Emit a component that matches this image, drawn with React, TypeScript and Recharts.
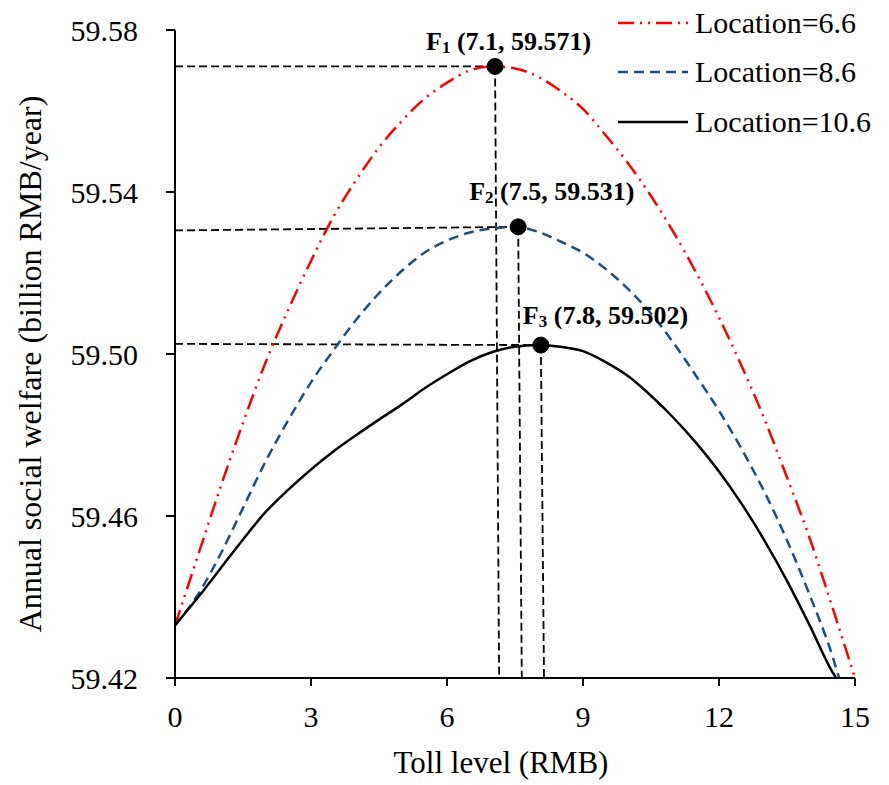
import { LineChart, Line, XAxis, YAxis, ReferenceLine, ReferenceDot, Legend, Label } from "recharts";

// toll level (RMB) sample points
const TOLL = [0, 0.5, 1, 1.5, 2, 2.5, 3, 3.5, 4, 4.5, 5, 5.5, 6, 6.5, 7, 7.5, 8, 8.5, 9, 9.5, 10, 10.5, 11, 11.5, 12, 12.5, 13, 13.5, 14, 14.5, 15];

// annual social welfare, Location = 6.6
const WELFARE_66 = [
  59.433, 59.45, 59.467, 59.483, 59.498, 59.511, 59.523, 59.534, 59.543, 59.551, 59.5575,
  59.563, 59.567, 59.57, 59.571, 59.5705, 59.5685, 59.565, 59.5605, 59.554, 59.547,
  59.539, 59.53, 59.52, 59.509, 59.497, 59.484, 59.4695, 59.4545, 59.4375, 59.42,
];

// Location = 8.6
const TOLL_86 = [...TOLL.slice(0, 30), 14.65];
const WELFARE_86 = [
  59.433, 59.4405, 59.4505, 59.462, 59.4735, 59.4837, 59.493, 59.501, 59.5085, 59.515, 59.5205,
  59.525, 59.528, 59.53, 59.531, 59.5314, 59.5302, 59.5278, 59.525, 59.521, 59.516,
  59.51, 59.5027, 59.4945, 59.486, 59.4765, 59.466, 59.454, 59.4405, 59.4255, 59.42,
];

// Location = 10.6
const TOLL_106 = [...TOLL.slice(0, 30), 14.58];
const WELFARE_106 = [
  59.433, 59.4398, 59.447, 59.4542, 59.461, 59.4665, 59.4715, 59.476, 59.48, 59.4838, 59.4875,
  59.4915, 59.495, 59.4982, 59.5005, 59.5018, 59.5022, 59.5018, 59.5007, 59.498, 59.4945,
  59.4897, 59.4842, 59.478, 59.471, 59.463, 59.454, 59.444, 59.433, 59.4215, 59.42,
];

const X_TICKS = [0, 3, 6, 9, 12, 15];
const Y_TICKS = [59.42, 59.46, 59.5, 59.54, 59.58];

// optimum points F1..F3
const OPT_NAMES = ["1", "2", "3"];
const OPT_TEXT = ["(7.1, 59.571)", "(7.5, 59.531)", "(7.8, 59.502)"];
const OPT_X = [7.06, 7.57, 8.07];
const OPT_Y = [59.571, 59.5314, 59.5022];
// where the hand-drawn guide lines meet the axes
const GUIDE_LEFT_Y = [59.571, 59.5305, 59.5025];
const GUIDE_BOTTOM_X = [7.15, 7.65, 8.14];

const FONT = '"Liberation Serif", "Times New Roman", serif';

const toPoints = (xs: number[], ys: number[]) => xs.map((x, i) => ({ x, y: ys[i] }));

const SERIES = [
  { name: "Location=6.6", data: toPoints(TOLL, WELFARE_66), color: "#ff0000", dash: "16 6 2 6 2 6" },
  { name: "Location=8.6", data: toPoints(TOLL_86, WELFARE_86), color: "#1f4e79", dash: "10 6" },
  { name: "Location=10.6", data: toPoints(TOLL_106, WELFARE_106), color: "#000000", dash: undefined },
];

// label offsets relative to each dot (start x, baseline y)
const LABEL_OFFSETS = [
  { dx: -69, dy: -16 },
  { dx: -49, dy: -27 },
  { dx: -18, dy: -21 },
];

function OptLabel({ viewBox, index }: any) {
  const cx = viewBox.x + viewBox.width / 2;
  const cy = viewBox.y + viewBox.height / 2;
  const off = LABEL_OFFSETS[index];
  return (
    <text x={cx + off.dx} y={cy + off.dy} fontFamily={FONT} fontWeight="bold" fontSize={26} fill="#000">
      <tspan>F</tspan>
      <tspan fontSize={17} dy={3}>{OPT_NAMES[index]}</tspan>
      <tspan dy={-3}>{" " + OPT_TEXT[index]}</tspan>
    </text>
  );
}

function LegendBox() {
  return (
    <div style={{ fontFamily: FONT, fontSize: 30, color: "#000" }}>
      {SERIES.map((s) => (
        <div key={s.name} style={{ display: "flex", alignItems: "center", height: 49.5, whiteSpace: "nowrap" }}>
          <svg width={70} height={10} style={{ marginRight: 7 }}>
            <line x1={0} y1={5} x2={70} y2={5} stroke={s.color} strokeWidth={2.5} strokeDasharray={s.dash} />
          </svg>
          <span>{s.name}</span>
        </div>
      ))}
    </div>
  );
}

export default function App() {
  const tickStyle = { fill: "#000", fontSize: 30, fontFamily: FONT };
  return (
    <div style={{ position: "absolute", left: 0, top: 0, width: 889, height: 785, background: "#fff" }}>
      <LineChart width={889} height={785} margin={{ top: 30, right: 34, bottom: 0, left: 0 }}>
        <XAxis
          dataKey="x"
          type="number"
          domain={[0, 15]}
          ticks={X_TICKS}
          allowDataOverflow
          height={107}
          tick={tickStyle}
          tickSize={8}
          tickMargin={20}
          axisLine={{ stroke: "#000", strokeWidth: 2 }}
          tickLine={{ stroke: "#000", strokeWidth: 2 }}
        >
          <Label
            content={({ viewBox }: any) => (
              <text
                x={viewBox.x + viewBox.width / 2 - 14}
                y={viewBox.y + 95}
                textAnchor="middle"
                fontFamily={FONT}
                fontSize={31}
                fill="#000"
              >
                Toll level (RMB)
              </text>
            )}
          />
        </XAxis>
        <YAxis
          dataKey="y"
          type="number"
          domain={[59.42, 59.58]}
          ticks={Y_TICKS}
          allowDataOverflow
          width={175}
          tick={tickStyle}
          tickFormatter={(v: number) => v.toFixed(2)}
          tickSize={9}
          tickMargin={28}
          axisLine={{ stroke: "#000", strokeWidth: 2 }}
          tickLine={{ stroke: "#000", strokeWidth: 2 }}
        >
          <Label
            content={({ viewBox }: any) => {
              const x = viewBox.x + 41;
              const y = viewBox.y + viewBox.height / 2 + 10;
              return (
                <text
                  x={x}
                  y={y}
                  transform={`rotate(-90, ${x}, ${y})`}
                  textAnchor="middle"
                  fontFamily={FONT}
                  fontSize={32}
                  fill="#000"
                >
                  Annual social welfare (billion RMB/year)
                </text>
              );
            }}
          />
        </YAxis>
        <Legend
          layout="horizontal"
          verticalAlign="middle"
          align="center"
          content={() => <LegendBox />}
          wrapperStyle={{ position: "absolute", left: 618, top: -2, width: 271 }}
        />
        {OPT_X.map((x, i) => (
          <ReferenceLine
            key={`h${i}`}
            segment={[{ x: 0, y: GUIDE_LEFT_Y[i] }, { x, y: OPT_Y[i] }]}
            stroke="#000"
            strokeWidth={1.8}
            strokeDasharray="8 4"
          />
        ))}
        {OPT_X.map((x, i) => (
          <ReferenceLine
            key={`v${i}`}
            segment={[{ x, y: OPT_Y[i] }, { x: GUIDE_BOTTOM_X[i], y: 59.42 }]}
            stroke="#000"
            strokeWidth={1.8}
            strokeDasharray="8 4"
          />
        ))}
        {SERIES.map((s) => (
          <Line
            key={s.name}
            data={s.data}
            dataKey="y"
            name={s.name}
            type="monotone"
            stroke={s.color}
            strokeWidth={2.5}
            strokeDasharray={s.dash}
            dot={false}
            activeDot={false}
            isAnimationActive={false}
          />
        ))}
        {OPT_X.map((x, i) => (
          <ReferenceDot
            key={`d${i}`}
            x={x}
            y={OPT_Y[i]}
            r={8}
            fill="#000"
            stroke="#000"
            label={(props: any) => <OptLabel {...props} index={i} />}
          />
        ))}
      </LineChart>
    </div>
  );
}
